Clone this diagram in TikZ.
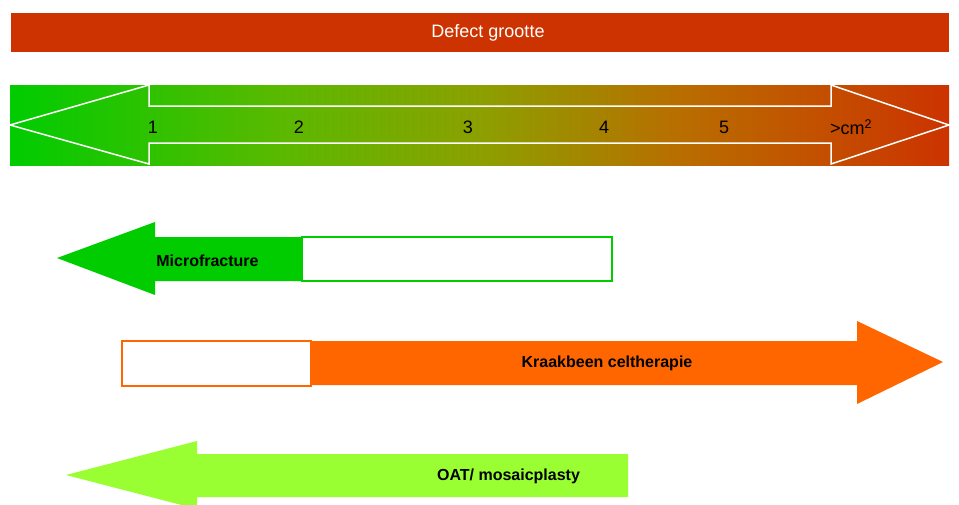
\documentclass[tikz,border=0pt]{standalone}
\usepackage{fontspec}
\setmainfont{Liberation Sans}
\definecolor{rust}{HTML}{CC3300}
\definecolor{grn}{HTML}{00CC00}
\definecolor{org}{HTML}{FF6600}
\definecolor{lime}{HTML}{99FF33}
\pgfdeclarehorizontalshading{scalegrad}{100bp}{%
  rgb(0bp)=(0,0.80,0);
  rgb(25bp)=(0,0.80,0);
  rgb(39.38bp)=(0.353,0.725,0);
  rgb(50.03bp)=(0.549,0.627,0);
  rgb(60.68bp)=(0.725,0.431,0);
  rgb(75bp)=(0.80,0.20,0);
  rgb(100bp)=(0.80,0.20,0)}
\begin{document}
\begin{tikzpicture}[x=1pt,y=-1pt,
  lbl/.style={font=\fontsize{18}{20}\selectfont, inner sep=0pt},
  blbl/.style={font=\fontsize{16}{18}\selectfont\bfseries, inner sep=0pt},
  outl/.style={white,line width=1.5pt,line join=miter}]
\useasboundingbox (0,0) rectangle (959,504);
\clip (0,0) rectangle (959,504);
% title bar
\fill[rust] (11,13) rectangle (949,52);
\node[lbl,text=white] (title) at (488,33) {Defect grootte};
% gradient scale
\shade[shading=scalegrad] (10,85) rectangle (949,165);
\draw[outl] (10,125) -- (149,85) -- (149,106) -- (831,106) -- (831,85) -- (949,125)
  -- (831,164) -- (831,143) -- (149,143) -- (149,164) -- cycle;
\node[lbl] (n1) at (153,127) {1};
\node[lbl] (n2) at (299,127) {2};
\node[lbl] (n3) at (468,127) {3};
\node[lbl] (n4) at (604,127) {4};
\node[lbl] (n5) at (724,127) {5};
\node[lbl,anchor=west] (ncm) at (830,127) {>cm\textsuperscript{2}};
% Microfracture
\fill[grn] (57,258) -- (155,222) -- (155,237) -- (302,237) -- (302,281) -- (155,281) -- (155,295) -- cycle;
\draw[grn,fill=white,line width=1.2pt] (302,237) rectangle (612,281);
\node[blbl] (micro) at (207.5,261) {Microfracture};
% Kraakbeen celtherapie
\draw[org,fill=white,line width=1.2pt] (122,341) rectangle (311,386);
\fill[org] (311,341) -- (857,341) -- (857,321) -- (943,362) -- (857,404) -- (857,385) -- (311,385) -- cycle;
\node[blbl] (kraak) at (607,363) {Kraakbeen celtherapie};
% OAT
\fill[lime] (66,475) -- (197,441) -- (197,454) -- (628,454) -- (628,497) -- (197,497) -- (197,509) -- cycle;
\node[blbl] (oat) at (508.5,476) {OAT/ mosaicplasty};
\end{tikzpicture}
\end{document}
